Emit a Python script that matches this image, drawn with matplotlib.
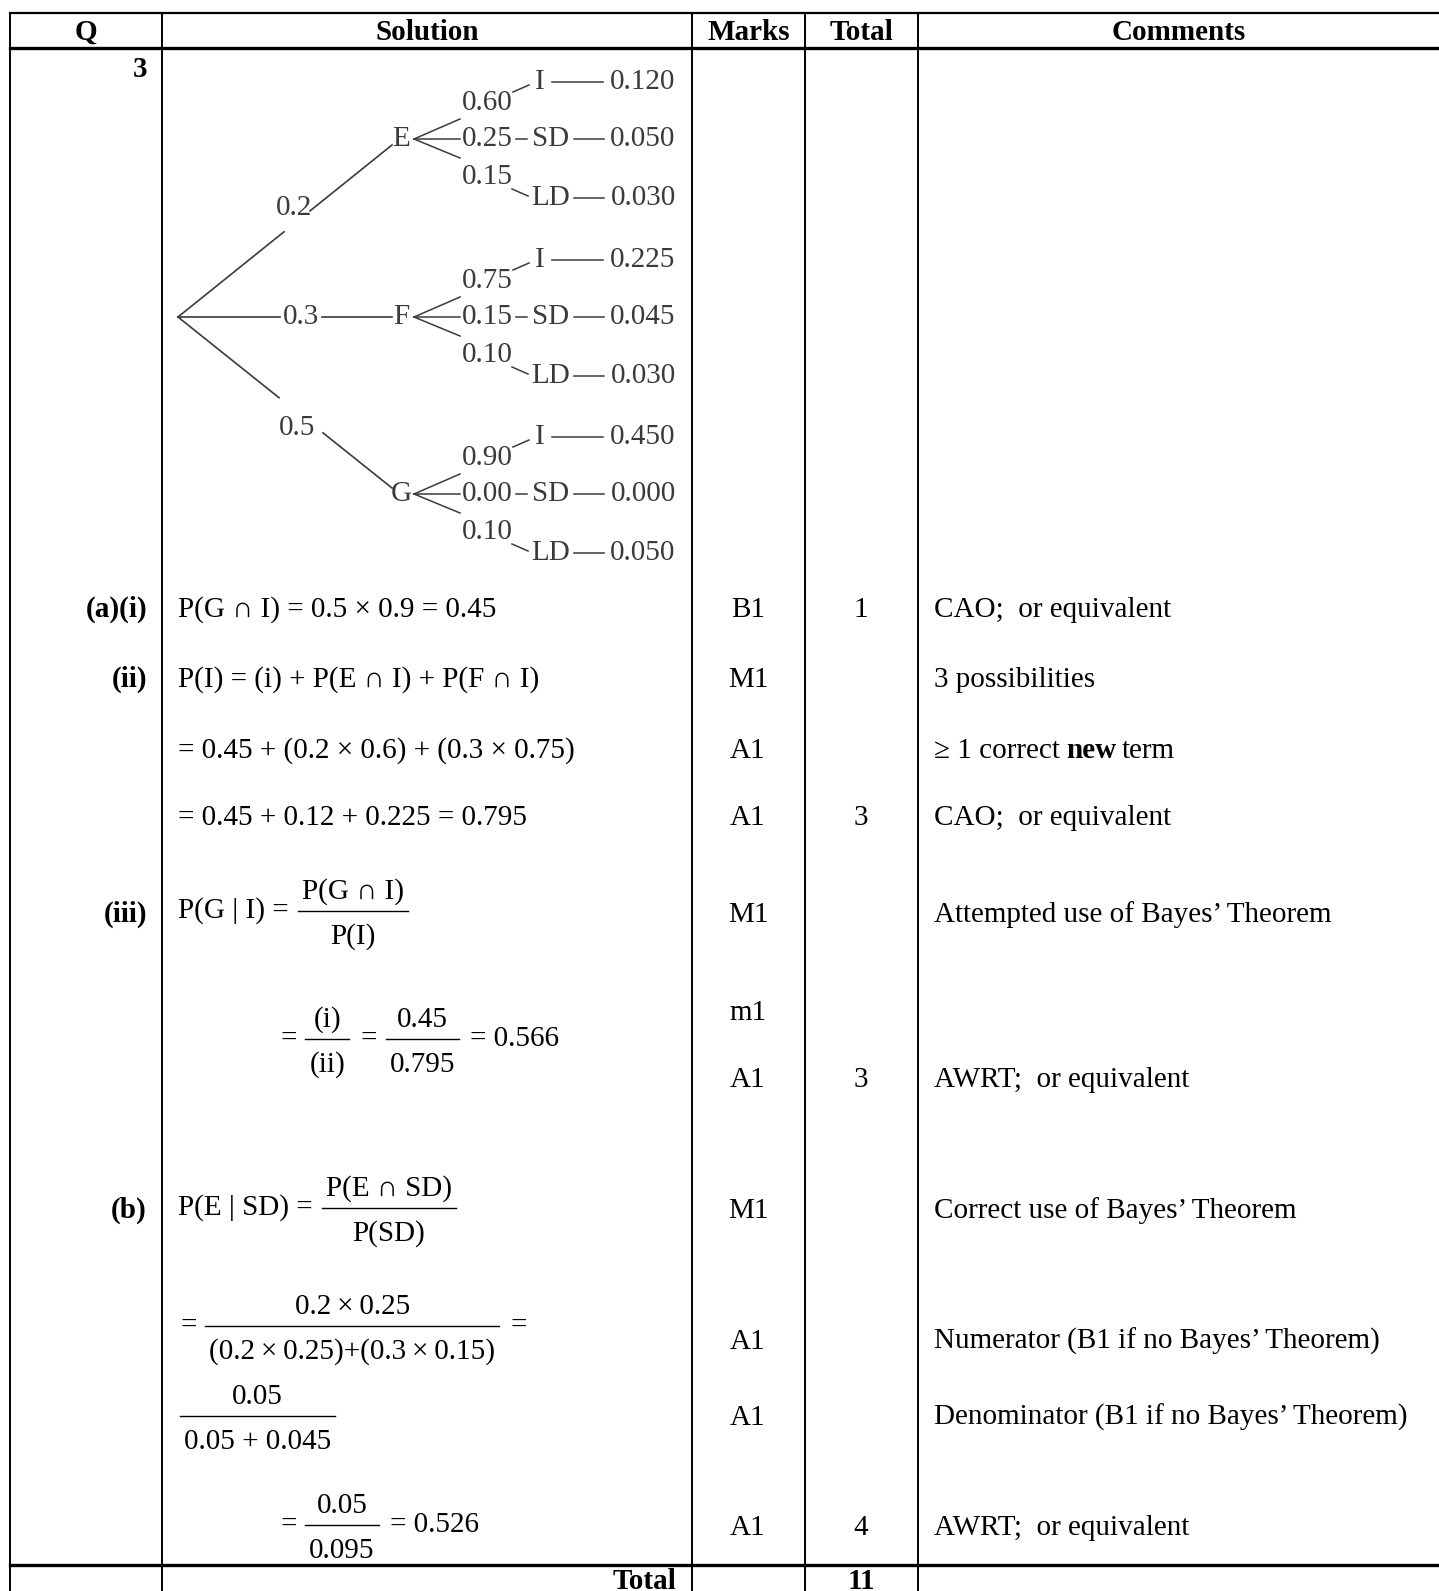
import matplotlib.pyplot as plt

W, H = 1439, 1591
SERIF = ['Liberation Serif', 'DejaVu Serif']
FS = 21
TREE_FS = 21
TREE_INK = '#3a3a3a'

# table header and column rules
headers = ['Q', 'Solution', 'Marks', 'Total', 'Comments']
col_x = [10, 162, 692, 805, 918, W]

# tree diagram values
first_nodes = ['E', 'F', 'G']
first_probs = ['0.2', '0.3', '0.5']
outcomes = ['I', 'SD', 'LD']
second_probs = [['0.60', '0.25', '0.15'],
                ['0.75', '0.15', '0.10'],
                ['0.90', '0.00', '0.10']]
joint_probs = [['0.120', '0.050', '0.030'],
               ['0.225', '0.045', '0.030'],
               ['0.450', '0.000', '0.050']]

# question part labels
parts = ['(a)(i)', '(ii)', '(iii)', '(b)']
part_y = [607, 677, 912, 1208]

# plain solution lines
sol_text = ['P(G ∩ I) = 0.5 × 0.9 = 0.45',
            'P(I) = (i) + P(E ∩ I) + P(F ∩ I)',
            '= 0.45 + (0.2 × 0.6) + (0.3 × 0.75)',
            '= 0.45 + 0.12 + 0.225 = 0.795']
sol_y = [607, 677, 748, 815]

# marks / totals / comments
mark_y = [607, 677, 748, 815, 912, 1010, 1077, 1208, 1339, 1415, 1525]
marks = ['B1', 'M1', 'A1', 'A1', 'M1', 'm1', 'A1', 'M1', 'A1', 'A1', 'A1']
totals = ['1', '', '', '3', '', '', '3', '', '', '', '4']
comments = ['CAO;  or equivalent', '3 possibilities', None,
            'CAO;  or equivalent', 'Attempted use of Bayes’ Theorem', '',
            'AWRT;  or equivalent', 'Correct use of Bayes’ Theorem',
            'Numerator (B1 if no Bayes’ Theorem)',
            'Denominator (B1 if no Bayes’ Theorem)',
            'AWRT;  or equivalent']

fig = plt.figure(figsize=(W / 100, H / 100), dpi=100)
ax = fig.add_axes([0, 0, 1, 1])
ax.set_xlim(0, W)
ax.set_ylim(H, 0)
ax.axis('off')
r = fig.canvas.get_renderer()


def txt(x, y, s, ha='left', bold=False, size=FS, color='black', va='baseline', **kw):
    return ax.text(x, y, s, ha=ha, va=va, fontsize=size, color=color,
                   family=SERIF, fontweight='bold' if bold else 'normal', **kw)


def width(t):
    return t.get_window_extent(r).width


def eq_line(x, y, items):
    # y is the height of the "=" sign / fraction bar
    for it in items:
        if isinstance(it, str):
            t = txt(x, y + 7, it)
            x += width(t) + 9
        else:
            num, den = it
            tn = txt(0, 0, num, ha='center')
            td = txt(0, 0, den, ha='center')
            w = max(width(tn), width(td)) + 8
            xc = x + w / 2
            tn.set_position((xc, y - 12))
            td.set_position((xc, y + 33))
            ax.plot([x, x + w], [y, y], color='black', lw=1.0)
            x += w + 11
    return x


# table rules
ax.plot([col_x[0], W], [13, 13], color='black', lw=1.6)
ax.plot([col_x[0], W], [48, 48], color='black', lw=2.4)
ax.plot([col_x[0], W], [1565, 1565], color='black', lw=2.4)
for cx in col_x[:-1]:
    ax.plot([cx, cx], [13, H], color='black', lw=1.4)

for i, h in enumerate(headers):
    txt((col_x[i] + col_x[i + 1]) / 2, 40, h, ha='center', bold=True)

txt(147, 77, '3', ha='right', bold=True)
for p, y in zip(parts, part_y):
    txt(147, y + 10, p, ha='right', bold=True)

# tree diagram
root = (178, 317)
node_x = 401
node_y = [139, 317, 494]
lab_pos = [(294, 208), (301, 317), (297, 428)]
gaps = [(284, 310), (280, 322), (279, 323)]
for k in range(3):
    ny = node_y[k]
    end = (node_x - 9, ny + (6 if k == 0 else (-6 if k == 2 else 0)))

    def yat(x):
        return root[1] + (end[1] - root[1]) * (x - root[0]) / (end[0] - root[0])

    g0, g1 = gaps[k]
    ax.plot([root[0], g0], [root[1], yat(g0)], color=TREE_INK, lw=1.2)
    ax.plot([g1, end[0]], [yat(g1), end[1]], color=TREE_INK, lw=1.2)
    txt(lab_pos[k][0], lab_pos[k][1], first_probs[k], ha='center', va='center',
        size=TREE_FS, color=TREE_INK)
    txt(node_x, ny, first_nodes[k], ha='center', va='center', size=TREE_FS,
        color=TREE_INK)
    # second-level branches
    for dy in (-20, 0, 19):
        ax.plot([414, 460], [ny, ny + dy], color=TREE_INK, lw=1.1)
    row_off = [-57, 0, 59]
    lab_off = [-36, 0, 38]
    for j in range(3):
        ry = ny + row_off[j]
        txt(487, ny + lab_off[j], second_probs[k][j], ha='center', va='center',
            size=TREE_FS, color=TREE_INK)
        if j == 0:
            ax.plot([513, 529], [ry + 10, ry + 3], color=TREE_INK, lw=1.1)
            txt(540, ry, outcomes[j], ha='center', va='center', size=TREE_FS, color=TREE_INK)
            ax.plot([552, 603], [ry, ry], color=TREE_INK, lw=1.1)
        elif j == 1:
            ax.plot([516, 527], [ry, ry], color=TREE_INK, lw=1.1)
            txt(551, ry, outcomes[j], ha='center', va='center', size=TREE_FS, color=TREE_INK)
            ax.plot([574, 604], [ry, ry], color=TREE_INK, lw=1.1)
        else:
            ax.plot([512, 528], [ry - 9, ry - 2], color=TREE_INK, lw=1.1)
            txt(551, ry, outcomes[j], ha='center', va='center', size=TREE_FS, color=TREE_INK)
            ax.plot([574, 604], [ry, ry], color=TREE_INK, lw=1.1)
        txt(643, ry, joint_probs[k][j], ha='center', va='center', size=TREE_FS,
            color=TREE_INK)

# solution column
for s, y in zip(sol_text, sol_y):
    txt(178, y + 10, s)

eq_line(178, 911, ['P(G | I) =', ('P(G ∩ I)', 'P(I)')])
eq_line(280, 1039, ['=', ('(i)', '(ii)'), '=', ('0.45', '0.795'), '= 0.566'])
eq_line(178, 1208, ['P(E | SD) =', ('P(E ∩ SD)', 'P(SD)')])
eq_line(180, 1326, ['=', ('0.2\u2009×\u20090.25', '(0.2\u2009×\u20090.25)+(0.3\u2009×\u20090.15)'), '='])
eq_line(180, 1416, [('0.05', '0.05 + 0.045')])
eq_line(280, 1525, ['=', ('0.05', '0.095'), '= 0.526'])

# marks, totals, comments
for y, m, t, c in zip(mark_y, marks, totals, comments):
    txt(748, y + 10, m, ha='center')
    if t:
        txt(861, y + 10, t, ha='center')
    if c:
        txt(934, y + 10, c)
t1 = txt(934, 748 + 10, '≥ 1 correct')
x1 = 934 + width(t1) + 6
t2 = txt(x1, 748 + 10, 'new', bold=True)
txt(x1 + width(t2) + 6, 748 + 10, 'term')

txt(676, 1589, 'Total', ha='right', bold=True)
txt(861, 1589, '11', ha='center', bold=True)

fig.savefig('out.png', dpi=100)
